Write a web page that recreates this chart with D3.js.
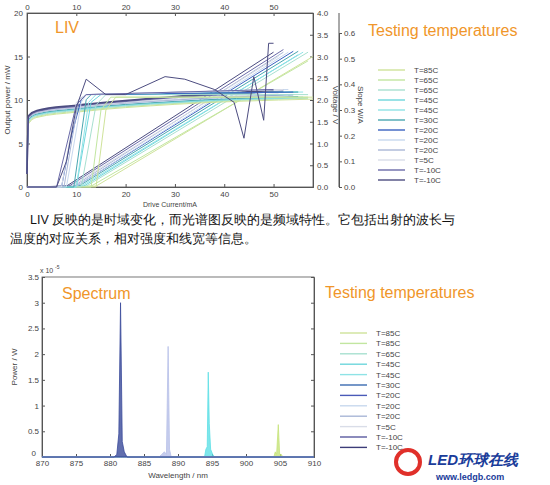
<!DOCTYPE html><html><head><meta charset="utf-8">
<script src="https://d3js.org/d3.v7.min.js"></script>
<style>body{margin:0;background:#fff}text{font-family:Arial,"Liberation Sans",sans-serif}</style></head><body>
<svg id="c" width="550" height="485"></svg>
<script>
const legendLabels=["T=85C","T=65C","T=65C","T=45C","T=45C","T=30C","T=20C","T=20C","T=20C","T=5C","T=-10C","T=-10C"];
const colors=["#cfe39a","#c2e6a0","#a8e0d0","#6ed6dc","#8fe3e6","#4aa6b0","#3a62c0","#c8d8ee","#a9b6d6","#d9dde8","#6a6aa8","#4c4c80"];
const powerCurves=[
[[0,0],[14,0.1],[58,15]],[[0,0],[13,0.1],[57,14.5]],[[0,0],[12,0.1],[57,15.5]],[[0,0],[11.5,0.1],[55,15.2]],
[[0,0],[11,0.1],[56,15.5]],[[0,0],[10.5,0.1],[55,15.6]],[[0,0],[10,0.1],[54,15.6]],[[0,0],[10,0.1],[53,15.5]],
[[0,0],[9.5,0.1],[52,15.5]],[[0,0],[9,0.1],[51,15]],[[0,0],[8.5,0.1],[52,15.8]],[[0,0],[8,0.1],[50,15.5]]];
const voltEnd=[2.02,2.04,2.05,2.06,2.07,2.08,2.12,2.1,2.12,2.14,2.2,2.22];
const voltStart=[1.45,1.47,1.5,1.52,1.53,1.55,1.58,1.57,1.58,1.6,1.62,1.64];
const voltMid=[1.72,1.74,1.76,1.78,1.79,1.8,1.83,1.82,1.83,1.84,1.86,1.88];
const slopeCurves=[
[[0,0],[14,0],[16,0.3],[18,0.35],[58,0.35]],[[0,0],[13,0],[15,0.3],[17,0.35],[57,0.35]],
[[0,0],[11,0],[14,0.32],[16,0.36],[57,0.36]],[[0,0],[10,0],[13,0.33],[15,0.36],[55,0.37]],
[[0,0],[10,0],[12.5,0.33],[14,0.36],[56,0.37]],[[0,0],[9.5,0],[12,0.34],[13,0.36],[55,0.37]],
[[0,0],[7,0],[9,0.2],[11,0.34],[12,0.36],[54,0.37]],[[0,0],[8,0],[11,0.33],[12,0.36],[53,0.38]],
[[0,0],[7.5,0],[10.5,0.34],[12,0.36],[52,0.38]],[[0,0],[7,0],[10,0.33],[12,0.36],[52,0.38]],
[[0,0],[6,0],[10,0.32],[12,0.36],[50,0.38]],
[[0,0],[6,0],[8,0.1],[10,0.31],[12,0.42],[16,0.36],[20,0.36],[28,0.43],[32,0.42],[38,0.38],[42,0.33],[44,0.19],[46,0.43],[48,0.26],[49,0.56],[50,0.56]]];
const specSeries=[
{c:"#c6e37a",pts:[[870,0],[904.1,0],[904.3,0.1],[904.5,0.05],[904.75,0.63],[904.95,0.05],[905.2,0.05],[905.4,0],[910,0]]},
{c:"#5ee0e6",pts:[[870,0],[893.9,0],[894.1,0.15],[894.3,0.2],[894.45,1.65],[894.6,0.65],[894.8,0.15],[895.1,0.05],[895.4,0],[910,0]]},
{c:"#b8c0e8",pts:[[870,0],[887.2,0],[887.6,0.05],[888,0.1],[888.3,0.05],[888.55,2.15],[888.75,0.15],[889,0],[910,0]]},
{c:"#3a4a9a",pts:[[870,0],[880.6,0],[881,0.05],[881.3,0.45],[881.55,3.0],[881.8,0.3],[882.1,0.1],[882.5,0],[910,0]]}];
const specLegend=["T=85C","T=85C","T=65C","T=45C","T=45C","T=30C","T=20C","T=20C","T=20C","T=5C","T=-10C","T=-10C"];
const specColors=["#cfe39a","#c2e6a0","#a8e0d0","#6ed6dc","#8fe3e6","#3a6ab0","#4a5ab8","#c8d8ee","#a9b6d6","#d9dde8","#5a5aa0","#3c3c78"];
const paragraph=["LIV 反映的是时域变化，而光谱图反映的是频域特性。它包括出射的波长与","温度的对应关系，相对强度和线宽等信息。"];

const svg=d3.select("#c");
const ax="#555";
function styleAxis(sel){sel.selectAll("text").attr("font-size",8).attr("fill","#444");sel.selectAll("line,path").attr("stroke",ax);}
function legend(gg,labels,cols,x0,y0,dy){labels.forEach((t,i)=>{gg.append("line").attr("x1",x0).attr("x2",x0+27).attr("y1",y0+i*dy).attr("y2",y0+i*dy).attr("stroke",cols[i]).attr("stroke-width",1.4);
 gg.append("text").attr("x",x0+36).attr("y",y0+i*dy+3).attr("font-size",8).attr("fill","#444").text(t);});}
// ---------- LIV ----------
const x=d3.scaleLinear().domain([0,58]).range([27,313]);
const yP=d3.scaleLinear().domain([0,20]).range([187,13]);
const yV=d3.scaleLinear().domain([0,4]).range([187,13]);
const yS=d3.scaleLinear().domain([0,0.6]).range([187,33]);
const g=svg.append("g");
g.append("rect").attr("x",27).attr("y",13).attr("width",286).attr("height",174).attr("fill","none").attr("stroke",ax).attr("stroke-width",0.8);
g.append("g").attr("transform","translate(0,187)").call(d3.axisBottom(x).tickValues([0,10,20,30,40,50]).tickSize(-3).tickPadding(4)).call(styleAxis);
g.append("g").attr("transform","translate(0,13)").call(d3.axisTop(x).tickValues([0,10,20,30,40,50]).tickSize(-3).tickPadding(3)).call(styleAxis);
g.append("g").attr("transform","translate(27,0)").call(d3.axisLeft(yP).tickValues([0,5,10,15,20]).tickSize(-3).tickPadding(4)).call(styleAxis);
g.append("g").attr("transform","translate(313,0)").call(d3.axisRight(yV).tickValues([0,0.5,1,1.5,2,2.5,3,3.5,4]).tickSize(-3).tickPadding(4)).call(styleAxis);
g.append("g").attr("transform","translate(339,0)").call(d3.axisRight(yS).tickValues([0,0.1,0.2,0.3,0.4,0.5,0.6]).tickSize(3).tickPadding(2).tickFormat(d3.format(".1f"))).call(styleAxis);
g.append("line").attr("x1",339).attr("x2",339).attr("y1",13).attr("y2",187).attr("stroke",ax);
const lp=d3.line().x(d=>x(d[0])).y(d=>yP(d[1]));
const lv=d3.line().curve(d3.curveMonotoneX).x(d=>x(d[0])).y(d=>yV(d[1]));
const ls=d3.line().x(d=>x(d[0])).y(d=>yS(d[1]));
powerCurves.forEach((c,i)=>g.append("path").attr("d",lp(c)).attr("fill","none").attr("stroke",colors[i]).attr("stroke-width",1));
voltEnd.forEach((v,i)=>{const end=powerCurves[i][2][0];
 g.append("path").attr("d",lv([[0,0.3],[0.3,voltStart[i]],[2,voltMid[i]-0.12],[10,voltMid[i]],[30,(voltMid[i]+v)/2+0.03],[end,v]])).attr("fill","none").attr("stroke",colors[i]).attr("stroke-width",i>9?1.6:1);});
slopeCurves.forEach((c,i)=>g.append("path").attr("d",ls(c)).attr("fill","none").attr("stroke",colors[i]).attr("stroke-width",1));
g.append("text").attr("x",55).attr("y",33).attr("fill","#f0962a").attr("font-size",16).text("LIV");
g.append("text").attr("transform","translate(10,100) rotate(-90)").attr("text-anchor","middle").attr("font-size",8).attr("fill","#444").text("Output power / mW");
g.append("text").attr("x",170).attr("y",207).attr("text-anchor","middle").attr("font-size",7).attr("fill","#444").text("Drive Current/mA");
g.append("text").attr("transform","translate(333,105) rotate(90)").attr("text-anchor","middle").attr("font-size",8).attr("fill","#444").text("Voltage / V");
g.append("text").attr("transform","translate(358,105) rotate(90)").attr("text-anchor","middle").attr("font-size",8).attr("fill","#444").text("Slope W/A");
g.append("text").attr("x",368).attr("y",36).attr("fill","#f0962a").attr("font-size",16).text("Testing temperatures");
legend(g,legendLabels,colors,378,70,10);
// ---------- paragraph ----------
svg.append("text").attr("x",30).attr("y",224).attr("font-size",12.5).attr("font-family","Noto Sans CJK SC").attr("fill","#111").text(paragraph[0]);
svg.append("text").attr("x",10).attr("y",243).attr("font-size",12.5).attr("font-family","Noto Sans CJK SC").attr("fill","#111").text(paragraph[1]);
// ---------- Spectrum ----------
const xs=d3.scaleLinear().domain([870,910]).range([42,314]);
const ys=d3.scaleLinear().domain([0,3.5]).range([457,277]);
const h=svg.append("g");
h.append("rect").attr("x",42).attr("y",277).attr("width",272).attr("height",180).attr("fill","none").attr("stroke",ax).attr("stroke-width",0.8);
h.append("g").attr("transform","translate(0,457)").call(d3.axisBottom(xs).tickValues(d3.range(870,911,5)).tickSize(-3).tickPadding(3)).call(styleAxis);
h.append("g").attr("transform","translate(42,0)").call(d3.axisLeft(ys).tickValues([0,0.5,1,1.5,2,2.5,3,3.5]).tickSize(-3).tickPadding(3).tickFormat(d=>d===0?"":d3.format("~g")(d))).call(styleAxis);
h.append("text").attr("x",36).attr("y",456).attr("text-anchor","end").attr("font-size",8).attr("fill","#444").text("0");
h.append("g").attr("transform","translate(314,0)").call(d3.axisLeft(ys).tickValues([0.5,1,1.5,2,2.5,3]).tickSize(3).tickFormat("")).call(styleAxis);
h.append("text").attr("x",40).attr("y",273).attr("font-size",7).attr("fill","#444").text("x 10");
h.append("text").attr("x",55).attr("y",269).attr("font-size",5).attr("fill","#444").text("-5");
const la=d3.area().x(d=>xs(d[0])).y0(ys(0)).y1(d=>ys(d[1]));
specSeries.forEach(s=>h.append("path").attr("d",la(s.pts)).attr("fill",s.c).attr("fill-opacity",0.8).attr("stroke",s.c).attr("stroke-width",0.8));
h.append("text").attr("x",62).attr("y",299).attr("fill","#f0962a").attr("font-size",16).text("Spectrum");
h.append("text").attr("transform","translate(17,367) rotate(-90)").attr("text-anchor","middle").attr("font-size",8).attr("fill","#444").text("Power / W");
h.append("text").attr("x",178).attr("y",478).attr("text-anchor","middle").attr("font-size",8).attr("fill","#444").text("Wavelength / nm");
h.append("text").attr("x",325).attr("y",298).attr("fill","#f0962a").attr("font-size",16).text("Testing temperatures");
legend(h,specLegend,specColors,340,333,10.4);
// logo
svg.append("text").attr("x",428).attr("y",465).attr("font-size",15).attr("font-weight","bold").attr("font-style","italic").attr("fill","#1a3c9a").attr("font-family","Noto Sans CJK SC").text("LED环球在线");
svg.append("text").attr("x",436).attr("y",480).attr("font-size",9).attr("font-weight","bold").attr("fill","#1a3c9a").text("www.ledgb.com");
svg.append("circle").attr("cx",408).attr("cy",462).attr("r",12).attr("fill","none").attr("stroke","#e0302a").attr("stroke-width",4);
</script></body></html>
